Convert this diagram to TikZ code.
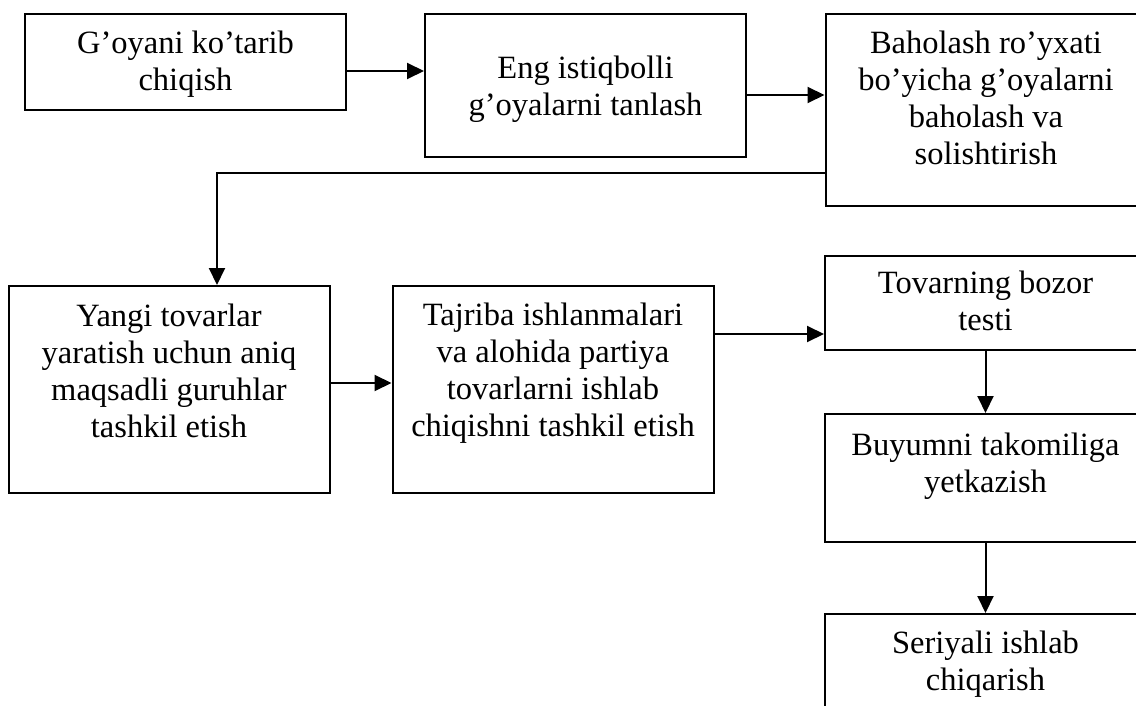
\documentclass[tikz,border=0pt]{standalone}
\usepackage{fontspec}
\setmainfont{Liberation Serif}
\usetikzlibrary{arrows.meta}
\begin{document}
\begin{tikzpicture}[x=1pt,y=-1pt,
  box/.style={draw, line width=2pt, inner sep=0pt, minimum width=321pt},
  txt/.style={inner sep=0pt, anchor=north, align=center,
    font=\fontsize{32.5}{37}\selectfont},
  arr/.style={line width=2pt, -{Triangle[length=17pt,width=16pt]}}]
\useasboundingbox (0,0) rectangle (1136,706);
\clip (0,0) rectangle (1136,706);
% process boxes
\node[box, minimum height=96pt]  (b1) at (185.5,62)  {};
\node[box, minimum height=143pt] (b2) at (585.5,85.5) {};
\node[box, minimum height=192pt] (b3) at (986,110)   {};
\node[box, minimum height=207pt] (b4) at (169,389.5) {};
\node[box, minimum height=207pt] (b5) at (553,389.5) {};
\node[box, minimum height=94pt]  (b6) at (985.5,303) {};
\node[box, minimum height=128pt] (b7) at (985.5,478) {};
\node[box, minimum height=132pt] (b8) at (985.5,680) {};
% box captions
\node[txt] (t1) at ([yshift=-18pt]b1.north) {G’oyani ko’tarib\\chiqish};
\node[txt] (t2) at ([yshift=-43pt]b2.north) {Eng istiqbolli\\g’oyalarni tanlash};
\node[txt] (t3) at ([yshift=-18pt]b3.north) {Baholash ro’yxati\\bo’yicha g’oyalarni\\baholash va\\solishtirish};
\node[txt] (t4) at ([yshift=-19pt]b4.north) {Yangi tovarlar\\yaratish uchun aniq\\maqsadli guruhlar\\tashkil etish};
\node[txt] (t5) at ([yshift=-18pt]b5.north) {Tajriba ishlanmalari\\va alohida partiya\\tovarlarni ishlab\\chiqishni tashkil etish};
\node[txt] (t6) at ([yshift=-16pt]b6.north) {Tovarning bozor\\testi};
\node[txt] (t7) at ([yshift=-20pt]b7.north) {Buyumni takomiliga\\yetkazish};
\node[txt] (t8) at ([yshift=-18pt]b8.north) {Seriyali ishlab\\chiqarish};
% connectors
\coordinate (a1) at ([yshift=-9pt]b1.east);
\coordinate (a2) at ([yshift=-9.5pt]b2.east);
\coordinate (a3) at ([yshift=-63pt]b3.west);
\coordinate (a4) at ([xshift=48pt]b4.north);
\coordinate (a5) at ([yshift=6.5pt]b4.east);
\coordinate (a6) at ([yshift=55.5pt]b5.east);
\draw[arr] (a1) -- (a1 -| b2.west);
\draw[arr] (a2) -- (a2 -| b3.west);
\draw[arr] (a3) -| (a4);
\draw[arr] (a5) -- (a5 -| b5.west);
\draw[arr] (a6) -- (a6 -| b6.west);
\draw[arr] (b6.south) -- (b7.north);
\draw[arr] (b7.south) -- (b8.north);
\end{tikzpicture}
\end{document}
